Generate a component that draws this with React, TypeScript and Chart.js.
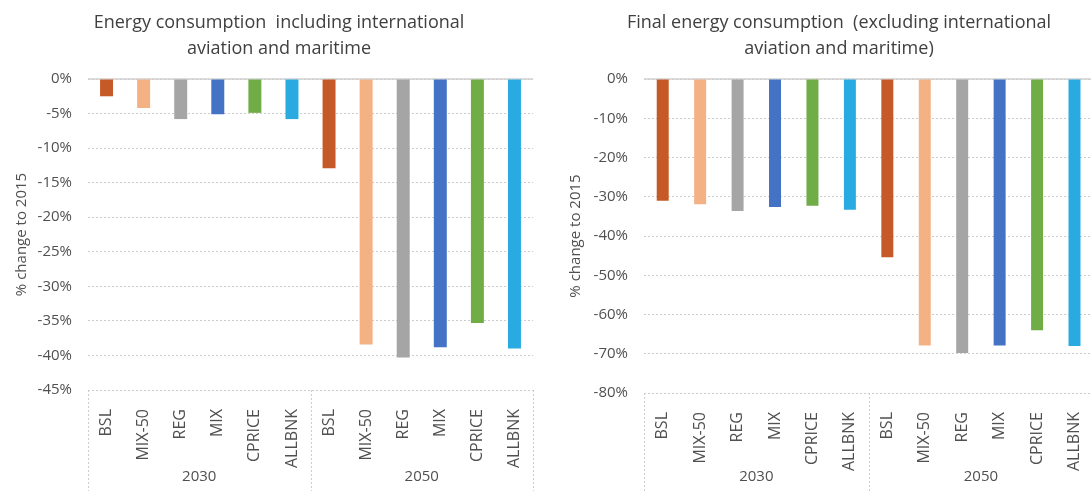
import React, { useEffect, useRef } from 'react';
import { Chart, registerables } from 'chart.js';
Chart.register(...registerables);

const categories = ['BSL', 'MIX-50', 'REG', 'MIX', 'CPRICE', 'ALLBNK'];
const groups = ['2030', '2050'];
const barColors = ['#C55A28', '#F4B183', '#A5A5A5', '#4472C4', '#70AD47', '#29ABE2'];
const leftValues2030 = [-2.5, -4.2, -5.8, -5.1, -4.9, -5.8];
const leftValues2050 = [-12.9, -38.4, -40.3, -38.8, -35.3, -39.0];
const rightValues2030 = [-31.0, -31.9, -33.6, -32.6, -32.3, -33.3];
const rightValues2050 = [-45.4, -67.9, -69.8, -67.9, -64.0, -68.0];
const leftTitle = ['Energy consumption  including international', 'aviation and maritime'];
const rightTitle = ['Final energy consumption  (excluding international', 'aviation and maritime)'];
const yTitle = '% change to 2015';
const leftTicks = { min: -45, max: 0, step: 5 };
const rightTicks = { min: -80, max: 0, step: 10 };

const FONT = "'Open Sans', 'Noto Sans', sans-serif";
const TICK_COLOR = '#505050';
const GRID_COLOR = '#CCCCCC';

type PanelCfg = {
  width: number;
  values: number[];
  title: string[];
  titleX: number;
  ticks: { min: number; max: number; step: number };
  yWidth: number;
  yTitlePad: number;
  xHeight: number;
  rightPad: number;
  barPct: number;
};

function Panel({ cfg }: { cfg: PanelCfg }) {
  const ref = useRef<HTMLCanvasElement | null>(null);
  useEffect(() => {
    if (!ref.current) return;
    const labels: string[] = [];
    groups.forEach(() => categories.forEach((c) => labels.push(c)));
    const colors: string[] = [];
    groups.forEach(() => barColors.forEach((c) => colors.push(c)));

    const decor = {
      id: 'decor',
      beforeDatasetsDraw(chart: any) {
        const { ctx, chartArea } = chart;
        const y = chart.scales.y;
        const y0 = y.getPixelForValue(0);
        ctx.save();
        ctx.strokeStyle = '#D0D0D0';
        ctx.lineWidth = 1.5;
        ctx.beginPath();
        ctx.moveTo(chartArea.left, y0);
        ctx.lineTo(chartArea.right, y0);
        ctx.stroke();
        ctx.restore();
      },
      afterDraw(chart: any) {
        const { ctx, chartArea } = chart;
        const x = chart.scales.x;
        const n = categories.length;
        const bottom = chart.height;
        ctx.save();
        ctx.strokeStyle = GRID_COLOR;
        ctx.lineWidth = 1;
        ctx.setLineDash([2, 2]);
        const step = x.getPixelForValue(1) - x.getPixelForValue(0);
        const bounds = [0, n, 2 * n].map((i) => x.getPixelForValue(i) - step / 2);
        bounds.forEach((bx) => {
          const px = Math.round(bx) + 0.5;
          ctx.beginPath();
          ctx.moveTo(px, chartArea.bottom);
          ctx.lineTo(px, bottom);
          ctx.stroke();
        });
        ctx.setLineDash([]);
        ctx.fillStyle = TICK_COLOR;
        ctx.font = `15px ${FONT}`;
        ctx.textAlign = 'center';
        ctx.textBaseline = 'middle';
        groups.forEach((g, gi) => {
          const cx = (bounds[gi] + bounds[gi + 1]) / 2;
          ctx.fillText(g, cx, 477);
        });
        ctx.fillStyle = '#404040';
        ctx.font = `18px ${FONT}`;
        cfg.title.forEach((line, li) => {
          ctx.fillText(line, cfg.titleX, 23 + li * 26);
        });
        ctx.restore();
      },
    };

    const chart = new Chart(ref.current, {
      type: 'bar',
      data: {
        labels,
        datasets: [
          {
            data: cfg.values,
            backgroundColor: colors,
            borderWidth: 0,
            barPercentage: cfg.barPct,
            categoryPercentage: 1,
          },
        ],
      },
      options: {
        responsive: false,
        animation: false,
        layout: { padding: { top: 79, right: cfg.rightPad, left: 0, bottom: 0 } },
        plugins: { legend: { display: false }, tooltip: { enabled: false }, title: { display: false } },
        scales: {
          x: {
            grid: { display: false },
            border: { display: false },
            ticks: {
              autoSkip: false,
              minRotation: 90,
              maxRotation: 90,
              padding: 11,
              color: TICK_COLOR,
              font: { size: 16, family: FONT },
            },
            afterFit: (s: any) => {
              s.height = cfg.xHeight;
            },
          },
          y: {
            min: cfg.ticks.min,
            max: cfg.ticks.max,
            ticks: {
              stepSize: cfg.ticks.step,
              padding: 16,
              color: TICK_COLOR,
              font: { size: 15, family: FONT },
              callback: (v: any) => `${v}%`,
            },
            grid: { color: GRID_COLOR, lineWidth: 1, drawTicks: false },
            border: { display: false, dash: [2, 2] },
            title: {
              display: true,
              text: yTitle,
              color: TICK_COLOR,
              font: { size: 15, family: FONT },
              padding: { top: cfg.yTitlePad, bottom: 0 },
            },
            afterFit: (s: any) => {
              s.width = cfg.yWidth;
            },
          },
        },
      },
      plugins: [decor],
    });
    return () => chart.destroy();
  }, []);
  return <canvas ref={ref} width={cfg.width} height={491} style={{ display: 'block' }} />;
}

export default function App() {
  const left: PanelCfg = {
    width: 545,
    values: [...leftValues2030, ...leftValues2050],
    title: leftTitle,
    titleX: 279,
    ticks: leftTicks,
    yWidth: 88,
    yTitlePad: 13,
    xHeight: 101,
    rightPad: 8,
    barPct: 0.35,
  };
  const right: PanelCfg = {
    width: 560,
    values: [...rightValues2030, ...rightValues2050],
    title: rightTitle,
    titleX: 294,
    ticks: rightTicks,
    yWidth: 99,
    yTitlePad: 22,
    xHeight: 98,
    rightPad: 7,
    barPct: 0.32,
  };
  return (
    <div style={{ position: 'fixed', left: 0, top: 0, width: 1091, height: 491, overflow: 'hidden', background: '#fff' }}>
      <div style={{ position: 'absolute', left: 0, top: 0 }}>
        <Panel cfg={left} />
      </div>
      <div style={{ position: 'absolute', left: 545, top: 0 }}>
        <Panel cfg={right} />
      </div>
    </div>
  );
}
